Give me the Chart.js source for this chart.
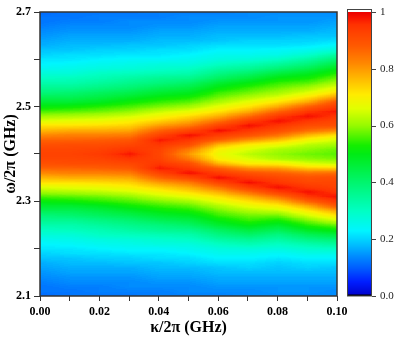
<!DOCTYPE html>
<html>
<head>
<meta charset="utf-8">
<script src="https://cdn.jsdelivr.net/npm/chart.js@4.4.1/dist/chart.umd.min.js"></script>
<style>
  html, body { margin: 0; padding: 0; background: #fff; }
</style>
</head>
<body>
<canvas id="map" width="396" height="337"></canvas>
<script>
// kappa/2pi (GHz), one column of the map each
const kappa = [0, 0.01, 0.02, 0.03, 0.04, 0.05, 0.06, 0.07, 0.08, 0.09, 0.1];

// omega/2pi (GHz), bottom to top
const omega = [
  2.10, 2.11, 2.12, 2.13, 2.14, 2.15, 2.16, 2.17, 2.18, 2.19,
  2.20, 2.21, 2.22, 2.23, 2.24, 2.25, 2.26, 2.27, 2.28, 2.29,
  2.30, 2.31, 2.32, 2.33, 2.34, 2.35, 2.36, 2.37, 2.38, 2.39,
  2.40,
  2.41, 2.42, 2.43, 2.44, 2.45, 2.46, 2.47, 2.48, 2.49, 2.50,
  2.51, 2.52, 2.53, 2.54, 2.55, 2.56, 2.57, 2.58, 2.59, 2.60,
  2.61, 2.62, 2.63, 2.64, 2.65, 2.66, 2.67, 2.68, 2.69, 2.70
];

// transmission (%) along omega for each kappa
const k00 = [11,12,12,13,14,15,16,17,19,20,22,23,25,28,30,33,36,39,43,47,51,56,61,66,72,77,82,87,90,92,
  93, 92,90,87,82,77,72,66,61,56,51,47,43,39,36,33,30,28,25,23,22,20,19,17,16,15,14,13,12,12,11];
const k01 = [12,12,13,14,15,16,17,18,19,21,22,24,26,28,31,33,36,40,43,47,52,57,62,67,72,78,83,87,91,92,
  93, 92,91,87,83,78,72,67,62,57,52,47,43,40,36,33,31,28,26,24,22,21,19,18,17,16,15,14,13,12,12];
const k02 = [12,13,13,14,15,16,17,18,20,21,23,25,27,30,32,35,38,42,45,49,54,58,63,68,73,78,83,88,91,93,
  94, 93,91,88,83,78,73,68,63,58,54,49,45,42,38,35,32,30,27,25,23,21,20,18,17,16,15,14,13,13,12];
const k03 = [12,13,14,14,15,16,17,19,20,22,24,26,28,31,34,37,40,44,48,52,56,60,65,70,74,79,84,89,92,95,
  98, 95,92,89,84,79,74,70,65,60,56,52,48,44,40,37,34,31,28,26,24,22,20,19,17,16,15,14,14,13,12];
const k04 = [13,13,14,15,16,17,18,19,21,22,24,27,29,32,36,39,43,47,51,55,59,64,69,74,80,87,93,98,95,93,
  92, 93,95,98,93,87,80,74,69,64,59,55,51,47,43,39,36,32,29,27,24,22,21,19,18,17,16,15,14,13,13];
const k05 = [13,14,14,15,16,17,18,20,21,23,25,27,30,33,37,41,45,49,53,57,61,67,73,78,84,92,99,95,91,84,
  80, 84,91,95,99,92,84,78,73,67,61,57,53,49,45,41,37,33,30,27,25,23,21,20,18,17,16,15,14,14,13];
const k06 = [13,14,15,16,17,18,19,21,23,25,27,30,34,38,42,47,51,55,58,62,67,72,78,85,93,99,94,88,77,70,
  68, 70,77,88,94,99,93,85,78,72,67,62,58,55,51,47,42,38,34,30,27,25,23,21,19,18,17,16,15,14,13];
const k07 = [14,14,15,16,17,18,20,21,23,25,28,32,36,41,46,51,55,58,62,67,72,78,86,94,99,95,90,81,71,66,
  63, 66,71,81,90,95,99,94,86,78,72,67,62,58,55,51,46,41,36,32,28,25,23,21,20,18,17,16,15,14,14];
const k08 = [14,15,15,16,17,18,19,20,22,24,27,30,34,38,43,48,53,58,64,70,77,85,94,99,95,92,88,80,70,62,
  60, 62,68,76,85,91,95,99,95,87,79,72,66,61,58,55,51,46,40,35,30,26,24,21,20,18,17,16,15,15,14];
const k09 = [14,15,15,16,17,18,20,21,23,26,29,33,38,43,49,54,59,65,71,78,87,95,99,95,92,90,85,75,66,60,
  58, 60,63,69,77,86,91,95,99,95,88,79,72,66,61,57,53,49,44,39,34,29,25,22,20,19,17,16,15,15,14];
const k10 = [14,14,15,16,17,18,19,21,23,26,30,35,40,46,52,58,65,72,79,89,95,99,95,93,92,91,86,74,64,59,
  57, 58,61,65,72,82,90,92,95,98,95,90,80,73,67,62,58,54,50,45,40,34,28,24,21,19,18,17,16,15,14];
const columns = [k00, k01, k02, k03, k04, k05, k06, k07, k08, k09, k10];

// colour scale (rainbow as in the colour bar)
const cmapPos = [0, 0.05, 0.10, 0.14, 0.18, 0.23, 0.30, 0.40, 0.50, 0.53, 0.60, 0.66, 0.71, 0.76, 0.82, 0.88, 0.92, 0.955, 0.975, 1];
const cmapRGB = [
  [0,0,200], [0,30,255], [0,95,255], [0,140,255], [0,190,255], [0,245,255], [0,255,195], [0,245,110],
  [0,235,20], [20,238,0], [150,250,0], [225,255,0], [255,235,0], [255,190,0], [255,135,0], [255,90,0],
  [255,70,0], [255,50,0], [250,25,0], [235,0,0]
];

function colorAt(v) {
  v = Math.max(0, Math.min(1, v));
  let i = 1;
  while (i < cmapPos.length - 1 && v > cmapPos[i]) i++;
  const t = (v - cmapPos[i - 1]) / (cmapPos[i] - cmapPos[i - 1]);
  const a = cmapRGB[i - 1], b = cmapRGB[i];
  return [0, 1, 2].map(k => Math.round(a[k] + (b[k] - a[k]) * t));
}

const heatmap = {
  id: 'heatmap',
  beforeDatasetsDraw(chart) {
    const {ctx, chartArea: a, scales: {x, y}} = chart;
    const nx = kappa.length, ny = omega.length;
    const src = document.createElement('canvas');
    src.width = nx;
    src.height = ny;
    const sctx = src.getContext('2d');
    const img = sctx.createImageData(nx, ny);
    for (let i = 0; i < nx; i++) {
      for (let j = 0; j < ny; j++) {
        const p = ((ny - 1 - j) * nx + i) * 4;
        const g = Math.round(columns[i][j] / 100 * 255);
        img.data[p] = img.data[p + 1] = img.data[p + 2] = g;
        img.data[p + 3] = 255;
      }
    }
    sctx.putImageData(img, 0, 0);

    const left = Math.round(a.left), top = Math.round(a.top);
    const w = Math.round(a.right) - left, h = Math.round(a.bottom) - top;
    const dk = kappa[1] - kappa[0], dw = omega[1] - omega[0];
    const x0 = x.getPixelForValue(kappa[0] - dk / 2) - left;
    const x1 = x.getPixelForValue(kappa[nx - 1] + dk / 2) - left;
    const y0 = y.getPixelForValue(omega[ny - 1] + dw / 2) - top;
    const y1 = y.getPixelForValue(omega[0] - dw / 2) - top;

    const buf = document.createElement('canvas');
    buf.width = w;
    buf.height = h;
    const bctx = buf.getContext('2d');
    bctx.imageSmoothingEnabled = true;
    bctx.imageSmoothingQuality = 'low';
    bctx.drawImage(src, x0, y0, x1 - x0, y1 - y0);
    const out = bctx.getImageData(0, 0, w, h);
    for (let p = 0; p < out.data.length; p += 4) {
      const c = colorAt(out.data[p] / 255);
      out.data[p] = c[0];
      out.data[p + 1] = c[1];
      out.data[p + 2] = c[2];
      out.data[p + 3] = 255;
    }
    bctx.putImageData(out, 0, 0);
    ctx.drawImage(buf, left, top);
  },
  afterDraw(chart) {
    const {ctx, chartArea: a} = chart;
    ctx.save();
    ctx.strokeStyle = '#333';
    ctx.lineWidth = 1.5;
    ctx.strokeRect(a.left, a.top, a.right - a.left, a.bottom - a.top);
    ctx.restore();
  }
};

const colorbar = {
  id: 'colorbar',
  afterDraw(chart) {
    const s = chart.scales.cb, ctx = chart.ctx;
    const bx = s.left + 10, bw = 25;
    const top = s.getPixelForValue(1), bot = s.getPixelForValue(0);
    ctx.save();
    for (let yy = Math.floor(top); yy < Math.ceil(bot); yy++) {
      const c = colorAt(s.getValueForPixel(yy + 0.5));
      ctx.fillStyle = 'rgb(' + c.join(',') + ')';
      ctx.fillRect(bx, yy, bw, 1);
    }
    ctx.fillStyle = '#fff';
    ctx.fillRect(bx, top - 2, bw, 2);
    ctx.fillStyle = '#000';
    ctx.fillRect(bx, bot - 1.5, bw, 1.5);
    ctx.strokeStyle = '#444';
    ctx.lineWidth = 1;
    ctx.strokeRect(bx + 0.5, top - 2.5, bw - 1, bot - top + 2.5);
    ctx.beginPath();
    s.ticks.forEach(t => {
      const py = Math.round(s.getPixelForValue(t.value)) + 0.5;
      ctx.moveTo(bx + bw, py);
      ctx.lineTo(bx + bw + 4, py);
    });
    ctx.stroke();
    ctx.restore();
  }
};

const tickFont = {family: 'Liberation Serif', size: 12, weight: 'bold'};
const titleFont = {family: 'Liberation Serif', size: 16, weight: 'bold'};

new Chart(document.getElementById('map'), {
  type: 'scatter',
  data: {datasets: []},
  options: {
    responsive: false,
    animation: false,
    layout: {padding: {top: 12, left: 0, right: 0, bottom: 0}},
    plugins: {legend: {display: false}, tooltip: {enabled: false}},
    scales: {
      x: {
        type: 'linear',
        min: 0,
        max: 0.1,
        afterFit: s => { s.height = 41; },
        border: {display: false},
        grid: {drawOnChartArea: false, color: '#333', tickLength: 5},
        ticks: {
          stepSize: 0.01,
          autoSkip: false,
          maxRotation: 0,
          padding: 4,
          color: '#000',
          font: tickFont,
          callback: v => {
            const n = Math.round(v * 100);
            return n % 2 === 0 ? (n / 100).toFixed(2) : '';
          }
        },
        title: {display: true, text: 'κ/2π (GHz)', color: '#000', font: titleFont, padding: {top: 0, bottom: 0}}
      },
      y: {
        type: 'linear',
        min: 2.1,
        max: 2.7,
        afterFit: s => { s.width = 40; },
        border: {display: false},
        grid: {drawOnChartArea: false, color: '#333', tickLength: 6},
        ticks: {
          stepSize: 0.1,
          autoSkip: false,
          padding: 3,
          color: '#000',
          font: tickFont,
          callback: v => {
            const n = Math.round(v * 10);
            return n % 2 === 1 ? (n / 10).toFixed(1) : '';
          }
        },
        title: {display: true, text: 'ω/2π (GHz)', color: '#000', font: titleFont, padding: {top: 1, bottom: 0}}
      },
      cb: {
        type: 'linear',
        axis: 'y',
        position: 'right',
        min: 0,
        max: 1,
        afterFit: s => { s.width = 59; },
        border: {display: false},
        grid: {display: true, drawOnChartArea: false, drawTicks: true, tickLength: 41, color: 'rgba(0,0,0,0)'},
        ticks: {
          stepSize: 0.2,
          padding: 2,
          color: '#222',
          font: {family: 'Liberation Serif', size: 11},
          callback: v => (v > 0.999 ? '1' : v.toFixed(1))
        }
      }
    }
  },
  plugins: [heatmap, colorbar]
});
</script>
</body>
</html>
